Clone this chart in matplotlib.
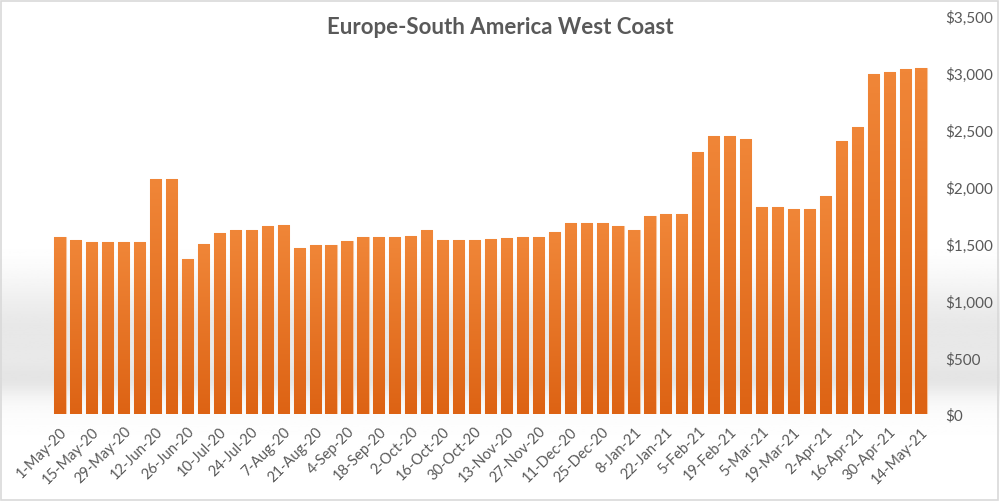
import numpy as np
import matplotlib.pyplot as plt
from matplotlib.ticker import FuncFormatter
from matplotlib.colors import LinearSegmentedColormap

# weekly rates, Europe -> South America West Coast
weeks = ['1-May-20', '8-May-20', '15-May-20', '22-May-20', '29-May-20', '5-Jun-20',
         '12-Jun-20', '19-Jun-20', '26-Jun-20', '3-Jul-20', '10-Jul-20', '17-Jul-20',
         '24-Jul-20', '31-Jul-20', '7-Aug-20', '14-Aug-20', '21-Aug-20', '28-Aug-20',
         '4-Sep-20', '11-Sep-20', '18-Sep-20', '25-Sep-20', '2-Oct-20', '9-Oct-20',
         '16-Oct-20', '23-Oct-20', '30-Oct-20', '6-Nov-20', '13-Nov-20', '20-Nov-20',
         '27-Nov-20', '4-Dec-20', '11-Dec-20', '18-Dec-20', '25-Dec-20', '1-Jan-21',
         '8-Jan-21', '15-Jan-21', '22-Jan-21', '29-Jan-21', '5-Feb-21', '12-Feb-21',
         '19-Feb-21', '26-Feb-21', '5-Mar-21', '12-Mar-21', '19-Mar-21', '26-Mar-21',
         '2-Apr-21', '9-Apr-21', '16-Apr-21', '23-Apr-21', '30-Apr-21', '7-May-21',
         '14-May-21']
rates = [1555, 1530, 1510, 1515, 1515, 1510, 2070, 2070, 1360, 1500,
         1595, 1618, 1615, 1652, 1665, 1465, 1488, 1488, 1520, 1558,
         1558, 1555, 1562, 1615, 1535, 1535, 1535, 1538, 1553, 1555,
         1561, 1600, 1685, 1685, 1685, 1658, 1617, 1745, 1757, 1757,
         2308, 2449, 2449, 2422, 1819, 1819, 1807, 1807, 1921, 2405,
         2522, 2990, 3005, 3032, 3040]

txt = '#595959'
plt.rcParams['font.family'] = ['Lato', 'DejaVu Sans']

fig = plt.figure(figsize=(10, 5.02), dpi=100)

# background gradient (white -> light grey band -> white)
bg = fig.add_axes([0, 0, 1, 1], zorder=-10)
yy = np.linspace(0, 1, 300)
shade = 1 - 0.10 * np.exp(-((yy - 0.33) / 0.12) ** 2) - 0.05 * np.exp(-((yy - 0.24) / 0.03) ** 2)
shade = np.clip(shade + 0.02 * yy, 0, 1)
bg.imshow(np.tile(shade[:, None], (1, 2)), aspect='auto', cmap='gray', vmin=0, vmax=1,
          extent=[0, 1, 0, 1], origin='lower')
bg.add_patch(plt.Rectangle((0.001, 0.002), 0.997, 0.995, fill=False, ec='#d9d9d9', lw=1.2,
                           transform=bg.transAxes))
bg.axis('off')

ax = fig.add_axes([0.052, 0.173, 0.877, 0.793])
ax.patch.set_alpha(0)
x = np.arange(len(rates))
bars = ax.bar(x, rates, width=0.7, color='#e8782a', edgecolor='#f6c39c', linewidth=0.8)

# vertical orange gradient inside each bar
grad = np.linspace(0, 1, 100)[:, None]
cmap = LinearSegmentedColormap.from_list('org', ['#dd6314', '#f08638'])
for b in bars:
    im = ax.imshow(grad, cmap=cmap, aspect='auto', origin='lower',
                   extent=[b.get_x(), b.get_x() + b.get_width(), 0, b.get_height()], zorder=2)
    im.set_clip_path(b)

ax.set_xlim(-0.5, len(rates) - 0.5)
ax.set_ylim(0, 3500)
ax.set_yticks(np.arange(0, 3501, 500))
ax.yaxis.tick_right()
ax.yaxis.set_major_formatter(FuncFormatter(lambda v, p: '${:,.0f}'.format(v)))
ax.set_xticks(x[::2])
ax.set_xticklabels(weeks[::2], rotation=45, ha='right', rotation_mode='anchor')
ax.tick_params(axis='both', length=0, colors=txt, labelsize=11)
ax.tick_params(axis='x', pad=7, labelsize=10.5)
ax.tick_params(axis='y', pad=12)
for s in ax.spines.values():
    s.set_visible(False)

fig.text(0.5, 0.945, 'Europe-South America West Coast', ha='center', va='center',
         fontsize=16, fontweight='bold', color=txt)

fig.savefig('out.png', dpi=100)
